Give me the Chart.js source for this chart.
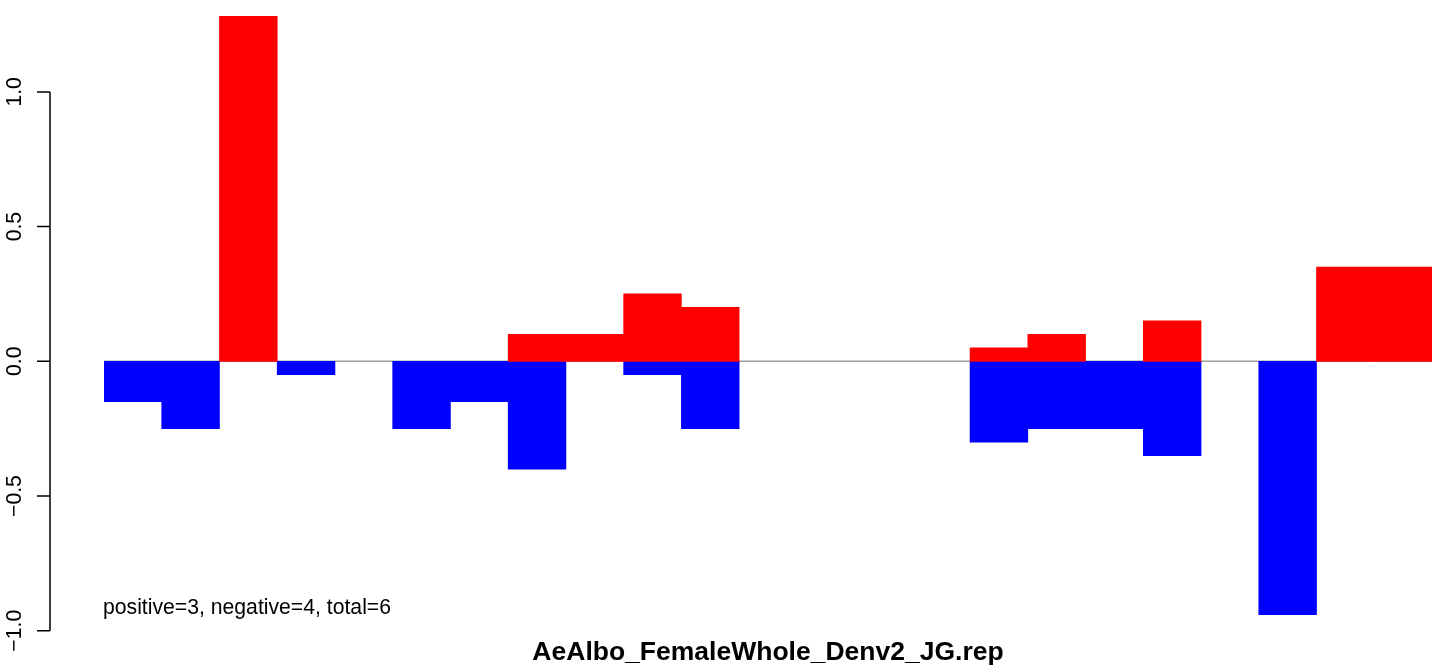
<!DOCTYPE html>
<html>
<head>
<meta charset="utf-8">
<title>AeAlbo_FemaleWhole_Denv2_JG.rep</title>
<script src="https://cdn.jsdelivr.net/npm/chart.js@4/dist/chart.umd.min.js"></script>
<style>
  html, body { margin: 0; padding: 0; background: #fff; }
  #wrap { width: 1455px; height: 669px; }
</style>
</head>
<body>
<div id="wrap"><canvas id="myChart"></canvas></div>
<script>
// bins along x (no labels shown in the original)
const bins = ["1","2","3","4","5","6","7","8","9","10","11","12","13","14","15","16","17","18","19","20","21","22","23"];
// red = positive part, blue = negative part (null = no bar)
const positivos = [null, null, 1.28, null, null, null, null, 0.10, 0.10, 0.25, 0.20, null, null, null, null, 0.05, 0.10, null, 0.15, null, null, 0.35, 0.35];
const negativos = [-0.15, -0.25, null, -0.05, null, -0.25, -0.15, -0.40, null, -0.05, -0.25, null, null, null, null, -0.30, -0.25, -0.25, -0.35, null, -0.94, null, null];
const yTicks = [-1.0, -0.5, 0.0, 0.5, 1.0];
const yTickLabels = ["\u22121.0", "\u22120.5", "0.0", "0.5", "1.0"];
const titulo = "AeAlbo_FemaleWhole_Denv2_JG.rep";
const nota = "positive=3, negative=4, total=6";

const fonte = '"Liberation Sans", Arial, Helvetica, sans-serif';

const eixoR = {
    id: 'eixoR',
    beforeDatasetsDraw(chart) {
        // linha do zero
        const ctx = chart.ctx;
        const y0 = chart.scales.y.getPixelForValue(0);
        ctx.save();
        ctx.strokeStyle = 'rgb(160,160,160)';
        ctx.lineWidth = 1.5;
        ctx.beginPath();
        ctx.moveTo(chart.chartArea.left, y0);
        ctx.lineTo(chart.chartArea.right, y0);
        ctx.stroke();
        ctx.restore();
    },
    afterDraw(chart) {
        const ctx = chart.ctx;
        const y = chart.scales.y;
        const topo = y.getPixelForValue(yTicks[yTicks.length - 1]);
        const base = y.getPixelForValue(yTicks[0]);
        ctx.save();
        ctx.strokeStyle = '#000';
        ctx.lineWidth = 1.5;
        ctx.beginPath();
        ctx.moveTo(50, topo);
        ctx.lineTo(50, base);
        yTicks.forEach(v => {
            const p = y.getPixelForValue(v);
            ctx.moveTo(37, p);
            ctx.lineTo(50, p);
        });
        ctx.stroke();

        ctx.fillStyle = '#000';
        ctx.font = '21.2px ' + fonte;
        ctx.textAlign = 'center';
        ctx.textBaseline = 'alphabetic';
        yTicks.forEach((v, i) => {
            ctx.save();
            ctx.translate(21, y.getPixelForValue(v));
            ctx.rotate(-Math.PI / 2);
            ctx.fillText(yTickLabels[i], 0, 0);
            ctx.restore();
        });

        ctx.textAlign = 'left';
        ctx.fillText(nota, 103, 614);
        ctx.restore();
    }
};

new Chart("myChart", {
    type: "bar",
    data: {
        labels: bins,
        datasets: [{
            label: "positive",
            backgroundColor: "#ff0000",
            data: positivos
        }, {
            label: "negative",
            backgroundColor: "#0000ff",
            data: negativos
        }]
    },
    options: {
        responsive: true,
        maintainAspectRatio: false,
        animation: false,
        layout: { padding: { left: 104, right: 23, top: 0, bottom: 0 } },
        datasets: {
            bar: { barPercentage: 1, categoryPercentage: 1, borderWidth: 0 }
        },
        scales: {
            x: { display: false, stacked: true, offset: true },
            y: { display: false, stacked: true, min: -1.024, max: 1.341 }
        },
        plugins: {
            legend: { display: false },
            tooltip: { enabled: false },
            title: {
                display: true,
                position: 'bottom',
                text: titulo,
                color: '#000',
                font: { family: fonte, size: 26.5, weight: 'bold', lineHeight: 1.2 },
                padding: 0
            }
        }
    },
    plugins: [eixoR]
});
</script>
</body>
</html>
